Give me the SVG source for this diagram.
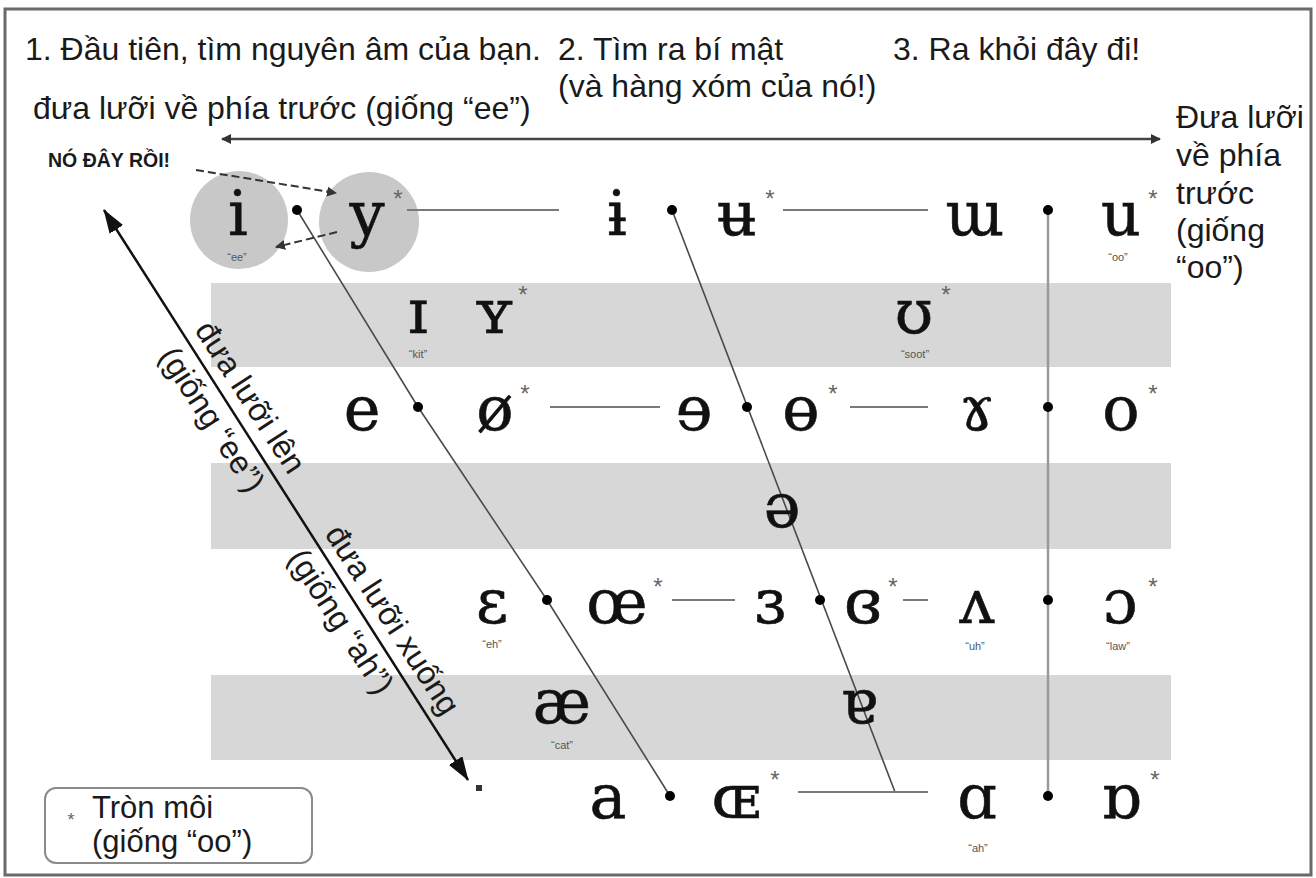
<svg xmlns="http://www.w3.org/2000/svg" width="1316" height="878" viewBox="0 0 1316 878">
<style>
.t{font-family:"Liberation Sans",Arial,sans-serif;font-size:32px;fill:#1a1a1a}
.b{font-family:"Liberation Sans",Arial,sans-serif;font-size:19.5px;font-weight:bold;fill:#1a1a1a}
.v{font-family:"DejaVu Serif",serif;font-size:62px;fill:#111;stroke:#111;stroke-width:0.6;text-anchor:middle}
.s{font-family:"Liberation Sans",Arial,sans-serif;font-size:24px;fill:#666;text-anchor:middle}
.l{font-family:"Liberation Sans",Arial,sans-serif;font-size:11px;fill:#555;text-anchor:middle}
.band{fill:#d7d7d7}
.hl{stroke:#7a7a7a;stroke-width:2;fill:none}
.dl{stroke:#4a4a4a;stroke-width:1.6;fill:none}
.dot{fill:#000}
</style>
<defs>
<marker id="sm" viewBox="0 0 10 10" refX="9" refY="5" markerWidth="10" markerHeight="10" markerUnits="userSpaceOnUse" orient="auto-start-reverse"><path d="M0,0 L10,5 L0,10 z" fill="#333"/></marker>
<marker id="big" viewBox="0 0 24 16" refX="23" refY="8" markerWidth="24" markerHeight="16" markerUnits="userSpaceOnUse" orient="auto-start-reverse"><path d="M0,0 L24,8 L0,16 z" fill="#111"/></marker>
</defs>
<rect x="5" y="9" width="1306" height="866" fill="#fff" stroke="#6a6a6a" stroke-width="3"/>
<g id="bands">
<rect class="band" x="211" y="283" width="960" height="84"/>
<rect class="band" x="211" y="463" width="960" height="86"/>
<rect class="band" x="211" y="675" width="960" height="85"/>
</g>
<g id="headings">
<text class="t" x="25" y="60">1. Đầu tiên, tìm nguyên âm của bạn.</text>
<text class="t" x="558" y="60">2. Tìm ra bí mật</text>
<text class="t" x="558" y="97">(và hàng xóm của nó!)</text>
<text class="t" x="893" y="60">3. Ra khỏi đây đi!</text>
<text class="t" x="33" y="119">đưa lưỡi về phía trước (giống “ee”)</text>
<text class="t" x="1176" y="128">Đưa lưỡi</text>
<text class="t" x="1176" y="166">về phía</text>
<text class="t" x="1176" y="204">trước</text>
<text class="t" x="1176" y="241">(giống</text>
<text class="t" x="1176" y="278">“oo”)</text>
<text class="b" x="48" y="167">NÓ ĐÂY RỒI!</text>
</g>
<g id="highlight">
<circle cx="239" cy="220" r="49" fill="#c8c8c8"/>
<circle cx="369" cy="222" r="50" fill="#c8c8c8"/>
</g>
<g id="connectors">
<line x1="222" y1="139" x2="1160" y2="139" stroke="#444" stroke-width="2.5" marker-start="url(#sm)" marker-end="url(#sm)"/>
<line x1="104" y1="210" x2="468" y2="780" stroke="#111" stroke-width="2.5" marker-start="url(#big)" marker-end="url(#big)"/>
<rect x="476" y="785" width="6" height="6" fill="#333"/>
<polyline class="dl" points="297,210 418,407 547,600 670,796"/>
<line class="dl" x1="672" y1="210" x2="895" y2="792"/>
<line x1="1048" y1="210" x2="1048" y2="796" stroke="#9a9a9a" stroke-width="2.5"/>
<line class="hl" x1="407" y1="210" x2="559" y2="210"/>
<line class="hl" x1="783" y1="210" x2="928" y2="210"/>
<line class="hl" x1="550" y1="407" x2="660" y2="407"/>
<line class="hl" x1="850" y1="407" x2="928" y2="407"/>
<line class="hl" x1="672" y1="600" x2="735" y2="600"/>
<line class="hl" x1="903" y1="600" x2="928" y2="600"/>
<line class="hl" x1="798" y1="792" x2="928" y2="792"/>
<line x1="196" y1="170" x2="336" y2="193" stroke="#333" stroke-width="2" stroke-dasharray="8 4" marker-end="url(#sm)"/>
<line x1="337" y1="232" x2="276" y2="247" stroke="#333" stroke-width="2" stroke-dasharray="8 4" marker-end="url(#sm)"/>
<circle class="dot" cx="297" cy="210" r="5"/>
<circle class="dot" cx="672" cy="210" r="5"/>
<circle class="dot" cx="1048" cy="210" r="5"/>
<circle class="dot" cx="418" cy="407" r="5"/>
<circle class="dot" cx="747" cy="407" r="5"/>
<circle class="dot" cx="1048" cy="407" r="5"/>
<circle class="dot" cx="547" cy="600" r="5"/>
<circle class="dot" cx="820" cy="600" r="5"/>
<circle class="dot" cx="1048" cy="600" r="5"/>
<circle class="dot" cx="670" cy="796" r="5"/>
<circle class="dot" cx="1048" cy="796" r="5"/>
</g>
<g id="axis-labels" class="t">
<text transform="translate(194,330) rotate(57)">đưa lưỡi lên</text>
<text transform="translate(158,356) rotate(57)">(giống “ee”)</text>
<text transform="translate(324,534) rotate(57)">đưa lưỡi xuống</text>
<text transform="translate(287,558) rotate(57)">(giống “ah”)</text>
</g>
<g id="v-i"><text class="v" x="238" y="235">i</text><text class="l" x="237" y="261">“ee”</text></g>
<g id="v-y"><text class="v" x="367" y="235">y</text><text class="s" x="398" y="207">*</text></g>
<g id="v-barred-i"><text class="v" x="617" y="235">ɨ</text></g>
<g id="v-barred-u"><text class="v" x="737" y="235">ʉ</text><text class="s" x="770" y="207">*</text></g>
<g id="v-turned-m"><text class="v" x="975" y="235">ɯ</text></g>
<g id="v-u"><text class="v" x="1121" y="235">u</text><text class="s" x="1153" y="207">*</text><text class="l" x="1118" y="261">“oo”</text></g>
<g id="v-small-i"><text class="v" x="418" y="333">ɪ</text><text class="l" x="418" y="358">“kit”</text></g>
<g id="v-small-y"><text class="v" x="494" y="333">ʏ</text><text class="s" x="523" y="303">*</text></g>
<g id="v-upsilon"><text class="v" x="914" y="333">ʊ</text><text class="s" x="946" y="303">*</text><text class="l" x="915" y="358">“soot”</text></g>
<g id="v-e"><text class="v" x="362" y="430">e</text></g>
<g id="v-oslash"><text class="v" x="495" y="430">ø</text><text class="s" x="525" y="402">*</text></g>
<g id="v-rev-e"><text class="v" x="694" y="430">ɘ</text></g>
<g id="v-barred-o"><text class="v" x="801" y="430">ɵ</text><text class="s" x="833" y="402">*</text></g>
<g id="v-rams-horn"><text class="v" x="977" y="430">ɤ</text></g>
<g id="v-o"><text class="v" x="1121" y="430">o</text><text class="s" x="1153" y="402">*</text></g>
<g id="v-schwa"><text class="v" x="782" y="527">ə</text></g>
<g id="v-epsilon"><text class="v" x="492" y="623">ɛ</text><text class="l" x="492" y="648">“eh”</text></g>
<g id="v-oe"><text class="v" x="617" y="623">œ</text><text class="s" x="658" y="595">*</text></g>
<g id="v-rev-epsilon"><text class="v" x="770" y="623">ɜ</text></g>
<g id="v-closed-rev-epsilon"><text class="v" x="863" y="623">ɞ</text><text class="s" x="893" y="595">*</text></g>
<g id="v-turned-v"><text class="v" x="977" y="623">ʌ</text><text class="l" x="975" y="650">“uh”</text></g>
<g id="v-open-o"><text class="v" x="1120" y="623">ɔ</text><text class="s" x="1153" y="595">*</text><text class="l" x="1118" y="650">“law”</text></g>
<g id="v-ae"><text class="v" x="562" y="723">æ</text><text class="l" x="562" y="749">“cat”</text></g>
<g id="v-turned-a"><text class="v" x="859" y="723">ɐ</text></g>
<g id="v-a"><text class="v" x="608" y="818">a</text></g>
<g id="v-small-oe"><text class="v" x="736" y="818">ɶ</text><text class="s" x="775" y="788">*</text></g>
<g id="v-alpha"><text class="v" x="977" y="818">ɑ</text><text class="l" x="978" y="852">“ah”</text></g>
<g id="v-turned-alpha"><text class="v" x="1121" y="818">ɒ</text><text class="s" x="1155" y="788">*</text></g>
<g id="legend">
<rect x="45" y="788" width="267" height="75" rx="11" fill="#fff" stroke="#8a8a8a" stroke-width="2"/>
<text class="s" x="71" y="826" style="font-size:18px">*</text>
<text class="t" x="92" y="818" style="font-size:31px">Tròn môi</text>
<text class="t" x="92" y="852" style="font-size:31px">(giống “oo”)</text>
</g>
</svg>
